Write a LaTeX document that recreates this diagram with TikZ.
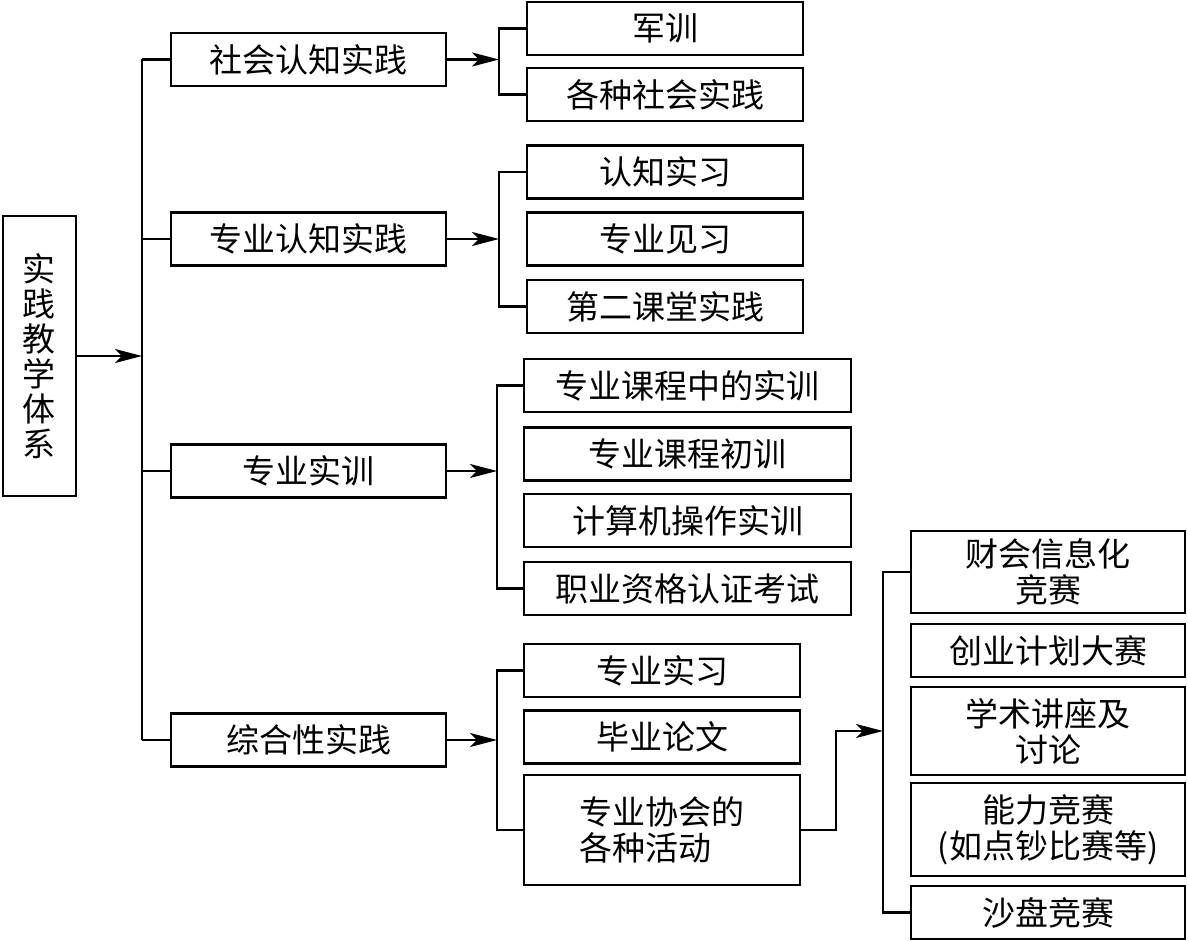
\documentclass[tikz,border=0pt]{standalone}
\usepackage{fontspec}
\setmainfont{Noto Sans CJK SC}
\usetikzlibrary{arrows.meta}
\tikzset{
  box/.style={draw, line width=2.8pt, inner sep=0pt, minimum height=53pt,
    font=\fontsize{33}{36}\selectfont, align=center},
  conn/.style={line width=2.6pt},
  arr/.style={conn, -{Stealth[length=27pt,width=14pt,inset=7pt]}}
}
\begin{document}
\begin{tikzpicture}[x=1pt, y=-1pt]
\useasboundingbox (0,0) rectangle (1188,941);
% system box
\node[box, minimum width=73pt, minimum height=280pt, font=\fontsize{33}{35}\selectfont]
  (sys) at (39.5,356) {实\\践\\教\\学\\体\\系};
% first level
\node[box, minimum width=275pt] (soc) at (308.5,59.5) {社会认知实践};
\node[box, minimum width=275pt] (pro) at (308.5,239) {专业认知实践};
\node[box, minimum width=275pt] (trn) at (308.5,471) {专业实训};
\node[box, minimum width=275pt] (syn) at (308.5,740) {综合性实践};
% second level
\node[box, minimum width=276pt] (soc1) at (665,28.5) {军训};
\node[box, minimum width=276pt] (soc2) at (665,94.5) {各种社会实践};
\node[box, minimum width=276pt] (pro1) at (665,172) {认知实习};
\node[box, minimum width=276pt] (pro2) at (665,239) {专业见习};
\node[box, minimum width=276pt] (pro3) at (665,306.5) {第二课堂实践};
\node[box, minimum width=327pt] (trn1) at (687.5,385.5) {专业课程中的实训};
\node[box, minimum width=327pt] (trn2) at (687.5,454) {专业课程初训};
\node[box, minimum width=327pt] (trn3) at (687.5,520.5) {计算机操作实训};
\node[box, minimum width=327pt] (trn4) at (687.5,588.5) {职业资格认证考试};
\node[box, minimum width=276pt] (syn1) at (662,670.5) {专业实习};
\node[box, minimum width=276pt] (syn2) at (662,737) {毕业论文};
\node[box, minimum width=276pt, minimum height=110pt, align=left] (syn3) at (662,830) {专业协会的\\各种活动};
% third level
\node[box, minimum width=274pt, minimum height=82pt] (com1) at (1048,572) {财会信息化\\竞赛};
\node[box, minimum width=274pt] (com2) at (1048,650.5) {创业计划大赛};
\node[box, minimum width=274pt, minimum height=88pt] (com3) at (1048,731) {学术讲座及\\讨论};
\node[box, minimum width=274pt, minimum height=93pt] (com4) at (1048,829.5) {能力竞赛\\(如点钞比赛等)};
\node[box, minimum width=274pt] (com5) at (1048,912.5) {沙盘竞赛};
% buses
\coordinate (busA) at (142,356);
\coordinate (brA) at (499,0);
\coordinate (brB) at (497,0);
\coordinate (busB) at (883,0);
\coordinate (elbow) at (836,731);
\draw[arr] (sys.east) -- (busA);
\draw[conn] (soc.west -| busA) -- (syn.west -| busA);
\foreach \n in {soc,pro,trn,syn}
  \draw[conn] (\n.west -| busA) -- (\n.west);
% soc
\draw[arr] (soc.east) -- (soc.east -| brA);
\draw[conn] (soc1.west) -- (soc1.west -| brA) -- (soc2.west -| brA) -- (soc2.west);
% pro
\draw[arr] (pro.east) -- (pro.east -| brA);
\draw[conn] (pro1.west) -- (pro1.west -| brA) -- (pro3.west -| brA) -- (pro3.west);
% trn
\draw[arr] (trn.east) -- (trn.east -| brB);
\draw[conn] (trn1.west) -- (trn1.west -| brB) -- (trn4.west -| brB) -- (trn4.west);
% syn
\draw[arr] (syn.east) -- (syn.east -| brB);
\draw[conn] (syn1.west) -- (syn1.west -| brB) -- (syn3.west -| brB) -- (syn3.west);
% competitions
\draw[arr] (syn3.east) -| (elbow) -- (elbow -| busB);
\draw[conn] (com1.west) -- (com1.west -| busB) -- (com5.west -| busB) -- (com5.west);
\end{tikzpicture}
\end{document}
